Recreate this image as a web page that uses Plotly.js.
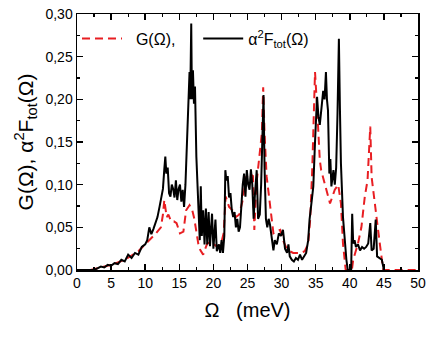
<!DOCTYPE html>
<html>
<head>
<meta charset="utf-8">
<script src="https://cdn.plot.ly/plotly-3.0.1.min.js"></script>
<style>
  html, body { margin: 0; padding: 0; background: #fff; }
  #chart { width: 436px; height: 337px; }
</style>
</head>
<body>
<div id="chart"></div>
<script>
'use strict';

// alpha^2 F_tot(Omega), black solid curve
var omegaA2F = [0, 2.5, 3, 3.5, 4, 4.5, 5, 5.5, 6, 6.5, 7, 7.5, 8, 8.5, 9, 9.5, 10, 10.3, 10.6, 10.9,
  11.2, 11.5, 11.8, 12.1, 12.4, 12.6, 12.8, 12.95, 13.1, 13.3, 13.5, 13.7, 13.9, 14.1, 14.3, 14.5, 14.7, 14.9,
  15.1, 15.3, 15.5, 15.7, 15.9, 16.1, 16.3, 16.5, 16.6, 16.75, 16.85, 17.0, 17.15, 17.3, 17.5, 17.7, 17.85,
  18.0, 18.15, 18.3, 18.5, 18.7, 18.9, 19.1, 19.3, 19.5, 19.8, 20.0, 20.3, 20.5, 20.8, 21.0, 21.2, 21.4, 21.6,
  21.75, 21.9, 22.1, 22.3, 22.5, 22.7, 22.9, 23.1, 23.3, 23.5, 23.7, 23.9, 24.1, 24.3, 24.5, 24.7, 24.9, 25.1,
  25.3, 25.5, 25.7, 25.9, 26.1, 26.35, 26.55, 26.8, 27.0, 27.2, 27.35, 27.5, 27.7, 27.9, 28.1, 28.3, 28.5,
  28.8, 29.0, 29.3, 29.6, 29.9, 30.2, 30.5, 30.8, 31.0, 31.2, 31.5, 31.8, 32.1, 32.4, 32.7, 33.0, 33.3, 33.6,
  33.9, 34.1, 34.4, 34.65, 34.9, 35.2, 35.4, 35.6, 35.85, 36.1, 36.3, 36.5, 36.65, 36.8, 37.0, 37.15, 37.3,
  37.45, 37.6, 37.8, 38.0, 38.2, 38.4, 38.55, 38.7, 39.0, 39.3, 39.5, 39.7, 40.2, 40.35, 40.5, 40.7, 40.9,
  41.2, 41.5, 41.8, 42.1, 42.4, 42.7, 43.0, 43.2, 43.5, 43.8, 44.0, 44.4, 44.7, 45.0];
var a2F = [0, 0, 0.002, 0.004, 0.003, 0.006, 0.005, 0.008, 0.007, 0.012, 0.010, 0.018, 0.014, 0.020, 0.018,
  0.027, 0.030, 0.035, 0.050, 0.042, 0.048, 0.055, 0.062, 0.074, 0.085, 0.095, 0.118, 0.133, 0.113, 0.120,
  0.090, 0.086, 0.100, 0.095, 0.085, 0.105, 0.082, 0.095, 0.100, 0.080, 0.094, 0.074, 0.100, 0.150, 0.190,
  0.232, 0.200, 0.289, 0.200, 0.234, 0.195, 0.215, 0.133, 0.100, 0.066, 0.035, 0.098, 0.040, 0.070, 0.030,
  0.072, 0.030, 0.068, 0.028, 0.066, 0.025, 0.059, 0.022, 0.030, 0.020, 0.035, 0.020, 0.040, 0.117, 0.105,
  0.110, 0.085, 0.090, 0.070, 0.062, 0.068, 0.050, 0.060, 0.045, 0.050, 0.080, 0.100, 0.113, 0.086, 0.117,
  0.100, 0.094, 0.118, 0.100, 0.060, 0.090, 0.117, 0.060, 0.065, 0.100, 0.180, 0.205, 0.120, 0.060, 0.050,
  0.060, 0.053, 0.040, 0.023, 0.035, 0.030, 0.043, 0.040, 0.047, 0.025, 0.020, 0.030, 0.016, 0.012, 0.010,
  0.014, 0.012, 0.018, 0.012, 0.016, 0.020, 0.035, 0.059, 0.080, 0.098, 0.150, 0.203, 0.180, 0.170, 0.190,
  0.210, 0.200, 0.232, 0.200, 0.187, 0.113, 0.130, 0.098, 0.110, 0.117, 0.100, 0.120, 0.184, 0.271, 0.190,
  0.125, 0.062, 0.030, 0.012, 0, 0, 0.066, 0.031, 0.035, 0.027, 0.030, 0.023, 0.027, 0.025, 0.027, 0.031,
  0.055, 0.023, 0.025, 0.059, 0.016, 0.014, 0.012, 0];

// G(Omega), red dashed curve
var omegaG = [0, 2, 3, 4, 5, 6, 7, 8, 9, 9.6, 10.6, 11.6, 12.3, 12.6, 12.8, 13.0, 13.15, 13.4, 13.8, 14.2,
  14.6, 15.1, 15.6, 16.0, 16.5, 16.9, 17.2, 17.5, 17.8, 18.1, 18.5, 18.8, 19.1, 19.6, 20.1, 20.6, 21.1, 21.5,
  21.8, 22.3, 22.8, 23.3, 23.8, 24.3, 24.8, 25.3, 25.8, 26.0, 26.3, 26.8, 27.1, 27.3, 27.5, 27.8, 28.05, 28.4,
  28.8, 29.2, 29.8, 30.2, 30.7, 31.2, 31.7, 32.7, 33.4, 33.9, 34.2, 34.5, 34.7, 34.9, 35.2, 35.6, 35.8, 36.4,
  37.1, 37.8, 38.3, 38.7, 39.0, 39.4, 40.3, 40.5, 41.2, 41.7, 42.2, 42.6, 43.0, 43.2, 43.6, 43.9, 44.4, 44.9, 50];
var gOmega = [0, 0, 0.002, 0.004, 0.006, 0.009, 0.012, 0.017, 0.022, 0.027, 0.035, 0.043, 0.050, 0.065, 0.082,
  0.070, 0.062, 0.065, 0.057, 0.057, 0.055, 0.043, 0.045, 0.070, 0.076, 0.070, 0.060, 0.045, 0.030, 0.023,
  0.018, 0.025, 0.031, 0.033, 0.030, 0.027, 0.030, 0.043, 0.086, 0.074, 0.070, 0.062, 0.065, 0.082, 0.109,
  0.113, 0.110, 0.047, 0.100, 0.133, 0.160, 0.214, 0.160, 0.110, 0.092, 0.074, 0.043, 0.045, 0.047, 0.035,
  0.026, 0.022, 0.020, 0.020, 0.022, 0.031, 0.060, 0.120, 0.180, 0.232, 0.191, 0.129, 0.117, 0.100, 0.078,
  0.094, 0.100, 0.078, 0.031, 0, 0, 0.012, 0.031, 0.050, 0.086, 0.105, 0.168, 0.109, 0.078, 0.063, 0.031, 0, 0];

var xTicks = [0, 5, 10, 15, 20, 25, 30, 35, 40, 45, 50];
var yTicks = [0, 0.05, 0.10, 0.15, 0.20, 0.25, 0.30];

var NB = '\u00a0';

var traceG = {
  type: 'scatter',
  mode: 'lines',
  name: NB + NB + 'G(Ω),' + NB + NB + NB + NB,
  x: omegaG,
  y: gOmega,
  line: { color: 'rgb(232,30,34)', width: 2, dash: '8px,5px' }
};

var traceA2F = {
  type: 'scatter',
  mode: 'lines',
  name: 'α<sup>2</sup>F<sub>tot</sub>(Ω)',
  x: omegaA2F,
  y: a2F,
  line: { color: '#000', width: 2 }
};

var axisFont = { family: 'Liberation Sans, Arial, sans-serif', size: 14, color: '#000' };

var layout = {
  width: 436,
  height: 337,
  margin: { l: 77, r: 18, t: 14, b: 67 },
  paper_bgcolor: '#fff',
  plot_bgcolor: '#fff',
  separators: ', ',
  font: { family: 'Liberation Sans, Arial, sans-serif', color: '#000' },
  showlegend: true,
  legend: {
    orientation: 'h',
    x: 0.0, y: 0.97,
    xanchor: 'left', yanchor: 'top',
    bgcolor: 'rgba(0,0,0,0)',
    font: { size: 16, color: '#000' },
    itemwidth: 40
  },
  xaxis: {
    range: [0, 50],
    tickvals: xTicks,
    ticktext: xTicks.map(String),
    ticks: 'inside', ticklen: 6, tickwidth: 1.5, tickcolor: '#000',
    minor: { ticks: 'inside', dtick: 2.5, ticklen: 3, tickwidth: 1.2, tickcolor: '#000' },
    showline: true, linecolor: '#000', linewidth: 1.5, mirror: 'allticks',
    showgrid: false, zeroline: false,
    tickfont: axisFont,
    title: { text: 'Ω' + NB + NB + NB + '(meV)', font: { size: 20, color: '#000' }, standoff: 12 }
  },
  yaxis: {
    range: [0, 0.30],
    tickvals: yTicks,
    tickformat: '.2f',
    ticks: 'inside', ticklen: 6, tickwidth: 1.5, tickcolor: '#000',
    minor: { ticks: 'inside', dtick: 0.025, ticklen: 3, tickwidth: 1.2, tickcolor: '#000' },
    showline: true, linecolor: '#000', linewidth: 1.5, mirror: 'allticks',
    showgrid: false, zeroline: false,
    tickfont: axisFont,
    title: { text: 'G(Ω), α<sup>2</sup>F<sub>tot</sub>(Ω)', font: { size: 21, color: '#000' }, standoff: 6 }
  }
};

Plotly.newPlot('chart', [traceG, traceA2F], layout, { displayModeBar: false, staticPlot: true });
</script>
</body>
</html>
